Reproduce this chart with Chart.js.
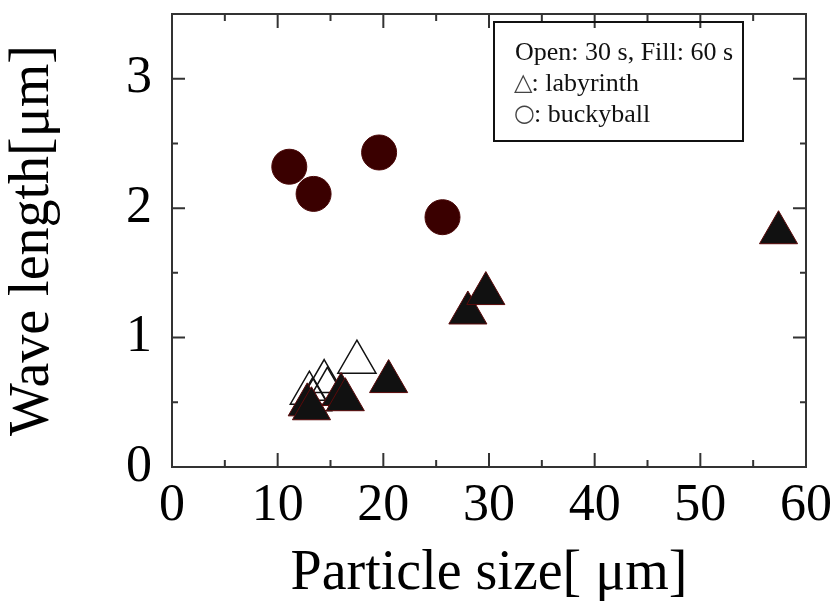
<!DOCTYPE html>
<html lang="en">

<head>
    <meta charset="UTF-8">
    <title>Wave length vs Particle size</title>
    <script src="https://cdn.jsdelivr.net/npm/chart.js"></script>
    <style>
        body { margin: 0; background: #fff; }
    </style>
</head>

<body>
    <canvas id="grafico" width="838" height="602"></canvas>
</body>

</html>

<script>
    // buckyball (circulos)
    const buckyX = [11.1, 13.4, 19.6, 25.6];
    const buckyY = [2.32, 2.11, 2.43, 1.93];

    // labyrinth vazio (abertos)
    const openX = [13.0, 13.3, 14.4, 14.7, 17.5];
    const openY = [0.57, 0.52, 0.66, 0.60, 0.81];

    // labyrinth cheio
    const filledX = [12.8, 13.2, 16.0, 16.4, 20.5, 28.0, 29.7, 57.4];
    const filledY = [0.48, 0.45, 0.56, 0.52, 0.66, 1.19, 1.34, 1.81];

    const xTicks = [0, 10, 20, 30, 40, 50, 60];
    const yTicks = [0, 1, 2, 3];

    // caixa de texto: [simbolo, resto]
    const legendLines = [['', 'Open: 30 s, Fill: 60 s'], ['\u25B3', ': labyrinth'], ['\u25CB', ': buckyball']];

    function pontos(xs, ys) {
        return xs.map(function (x, i) { return { x: x, y: ys[i] }; });
    }

    const serif = "'Liberation Serif', 'Times New Roman', serif";

    // moldura com ticks para dentro nos 4 lados + caixa de texto
    const moldura = {
        id: 'moldura',
        beforeDatasetsDraw(chart) {
            const ctx = chart.ctx;
            const a = chart.chartArea;
            const sx = chart.scales.x, sy = chart.scales.y;
            ctx.save();
            ctx.strokeStyle = '#333';
            ctx.lineWidth = 2;
            ctx.strokeRect(a.left, a.top, a.right - a.left, a.bottom - a.top);
            ctx.beginPath();
            sx.ticks.forEach(function (t) {
                const px = sx.getPixelForValue(t.value);
                const len = xTicks.includes(t.value) ? 14 : 7;
                if (px <= a.left + 1 || px >= a.right - 1) return;
                ctx.moveTo(px, a.bottom); ctx.lineTo(px, a.bottom - len);
                ctx.moveTo(px, a.top); ctx.lineTo(px, a.top + len);
            });
            sy.ticks.forEach(function (t) {
                const py = sy.getPixelForValue(t.value);
                const len = yTicks.includes(t.value) ? 13 : 6;
                if (py <= a.top + 1 || py >= a.bottom - 1) return;
                ctx.moveTo(a.left, py); ctx.lineTo(a.left + len, py);
                ctx.moveTo(a.right, py); ctx.lineTo(a.right - len, py);
            });
            ctx.stroke();
            ctx.restore();
        },
        afterDraw(chart) {
            const ctx = chart.ctx;
            const a = chart.chartArea;
            const bx = a.right - 312, by = a.top + 8;
            ctx.save();
            ctx.strokeStyle = '#111';
            ctx.lineWidth = 2;
            ctx.strokeRect(bx, by, 249, 119);
            ctx.fillStyle = '#111';
            ctx.textBaseline = 'middle';
            legendLines.forEach(function (par, i) {
                let x = bx + 21;
                const y = by + 31 + i * 31;
                if (par[0]) {
                    ctx.font = '24px "DejaVu Sans"';
                    ctx.fillStyle = '#444';
                    ctx.fillText(par[0], x - 1, y);
                    x += ctx.measureText(par[0]).width - 2;
                }
                ctx.font = '26px ' + serif;
                ctx.fillStyle = '#111';
                ctx.fillText(par[1], x, y);
            });
            ctx.restore();
        }
    };

    const data1 = {
        datasets: [{
            label: 'labyrinth (cheio)',
            data: pontos(filledX, filledY),
            pointStyle: 'triangle',
            pointRadius: 22,
            backgroundColor: '#111111',
            borderColor: '#5a0a0a',
            borderWidth: 1
        }, {
            label: 'labyrinth (vazio)',
            data: pontos(openX, openY),
            pointStyle: 'triangle',
            pointRadius: 22,
            backgroundColor: 'rgba(255,255,255,0)',
            borderColor: '#111111',
            borderWidth: 1.5
        }, {
            label: 'buckyball',
            data: pontos(buckyX, buckyY),
            pointStyle: 'circle',
            pointRadius: 17.5,
            backgroundColor: '#3a0000',
            borderColor: '#4a0808',
            borderWidth: 1
        }]
    };

    const config1 = {
        type: 'scatter',
        data: data1,
        options: {
            responsive: false,
            animation: false,
            events: [],
            layout: { autoPadding: false, padding: { top: 14, right: 32, left: 0, bottom: 0 } },
            plugins: {
                legend: { display: false },
                tooltip: { enabled: false }
            },
            scales: {
                x: {
                    type: 'linear',
                    min: 0,
                    max: 60,
                    grid: { display: false, drawTicks: false },
                    border: { display: false },
                    ticks: {
                        stepSize: 5,
                        padding: 8,
                        autoSkip: false,
                        maxRotation: 0,
                        color: '#000',
                        font: { family: serif, size: 52 },
                        callback: function (v) { return xTicks.includes(v) ? v : ''; }
                    },
                    title: {
                        display: true,
                        text: 'Particle size[ \u03BCm]',
                        color: '#000',
                        font: { family: serif, size: 56, lineHeight: 1 },
                        padding: 0
                    },
                    afterFit: function (s) { s.height = 135; s.paddingLeft = 0; s.paddingRight = 0; }
                },
                y: {
                    type: 'linear',
                    min: 0,
                    max: 3.5,
                    grid: { display: false, drawTicks: false },
                    border: { display: false },
                    ticks: {
                        stepSize: 0.5,
                        padding: 20,
                        autoSkip: false,
                        color: '#000',
                        font: { family: serif, size: 52 },
                        callback: function (v) { return yTicks.includes(v) ? v : ''; }
                    },
                    title: {
                        display: true,
                        text: 'Wave length[\u03BCm]',
                        color: '#000',
                        font: { family: serif, size: 56, lineHeight: 1 },
                        padding: { top: 5, bottom: 0 }
                    },
                    afterFit: function (s) { s.width = 172; s.paddingTop = 0; s.paddingBottom = 0; }
                }
            }
        },
        plugins: [moldura]
    };

    const myChart1 = new Chart(document.getElementById('grafico'), config1);
</script>
